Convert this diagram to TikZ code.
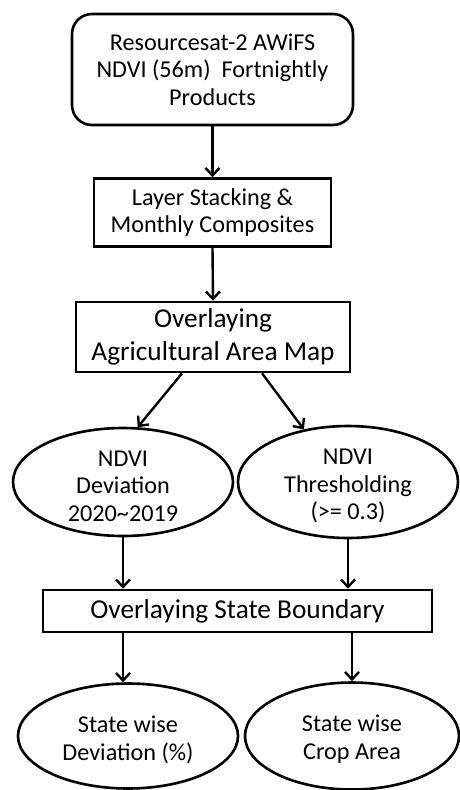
\documentclass[tikz,border=0pt]{standalone}
\usepackage{fontspec}
\setmainfont{Carlito}
\usetikzlibrary{shapes.geometric,arrows.meta,calc}
\begin{document}
\begin{tikzpicture}[x=1pt,y=-1pt,
  every node/.style={inner sep=0pt, align=center},
  txt/.style={font=\fontsize{24.2}{27.5}\selectfont},
  bigtxt/.style={font=\fontsize{27.3}{33}\selectfont},
  boxst/.style={draw, line width=2.6pt},
  ellst/.style={draw, ellipse, line width=2.6pt},
  arr/.style={line width=2.4pt, -{Straight Barb[length=7.5pt,width=14pt,line width=2.4pt]}}]
\useasboundingbox (0,0) rectangle (459,790);
\node[boxst, txt, rounded corners=20pt, minimum width=281pt, minimum height=111pt] (b1) at (212.5,69.5)
  {Resourcesat-2 AWiFS\\NDVI (56m)\ \ Fortnightly\\Products};
\node[boxst, txt, minimum width=237pt, minimum height=68pt] (b2) at (212.5,212.5)
  {Layer Stacking \&\\Monthly Composites};
\node[boxst, bigtxt, minimum width=274pt, minimum height=70pt] (b3) at (213,337)
  {Overlaying\\Agricultural Area Map};
\node[ellst, minimum width=220pt, minimum height=108pt] (e1) at (123,482) {};
\node[txt] (e1t) at ($(e1)+(0,4)$) {NDVI\\Deviation\\2020\textasciitilde 2019};
\node[ellst, minimum width=220pt, minimum height=112pt] (e2) at (348,482) {};
\node[txt] (e2t) at ($(e2)+(0,4)$) {NDVI\\Thresholding\\(>= 0.3)};
\node[boxst, bigtxt, minimum width=389pt, minimum height=42pt] (b4) at (237.5,611)
  {Overlaying State Boundary};
\node[ellst, minimum width=220pt, minimum height=105pt] (f1) at (128,736) {};
\node[txt] (f1t) at ($(f1)+(0,4)$) {State wise\\Deviation (\%)};
\node[ellst, minimum width=214pt, minimum height=107pt] (f2) at (352,736) {};
\node[txt] (f2t) at ($(f2)+(0,3)$) {State wise\\Crop Area};
\draw[arr] (b1.south -| b2.north) -- (b2.north);
\draw[arr] (b2.south) -- (b3.north);
\draw[arr] ([xshift=-31pt]b3.south) -- (e1.75);
\draw[arr] ([xshift=49pt]b3.south) -- (e2.130);
\draw[arr] (e1.south) -- (e1.south |- b4.north);
\draw[arr] (e2.south) -- (e2.south |- b4.north);
\draw[arr] (b4.south -| e1.south) -- (f1.north -| e1.south);
\draw[arr] (b4.south -| f2.north) -- (f2.north);
\end{tikzpicture}
\end{document}
